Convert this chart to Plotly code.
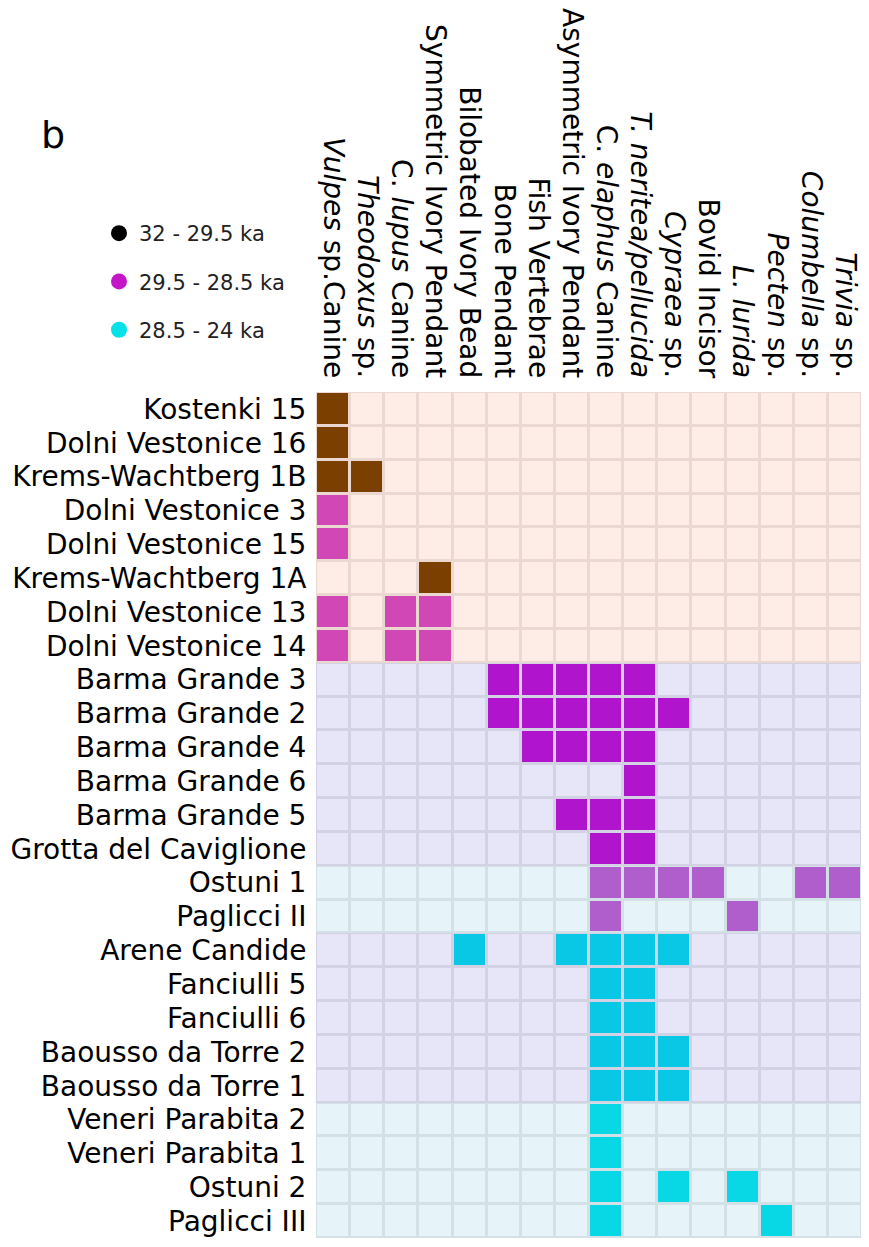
import plotly.graph_objects as go

# ornament types (columns)
items = ["Vulpes Canine", "Theodoxus", "C. lupus Canine", "Symmetric Ivory Pendant",
         "Bilobated Ivory Bead", "Bone Pendant", "Fish Vertebrae", "Asymmetric Ivory Pendant",
         "C. elaphus Canine", "T. neritea/pellucida", "Cypraea", "Bovid Incisor",
         "L. lurida", "Pecten", "Columbella", "Trivia"]
item_labels = ["<i>Vulpes</i> sp.Canine", "<i>Theodoxus</i> sp.", "C. <i>lupus</i> Canine",
               "Symmetric Ivory Pendant", "Bilobated Ivory Bead", "Bone Pendant",
               "Fish Vertebrae", "Asymmetric Ivory Pendant", "C. <i>elaphus</i> Canine",
               "<i>T. neritea/pellucida</i>", "<i>Cypraea</i> sp.", "Bovid Incisor",
               "<i>L. lurida</i>", "<i>Pecten</i> sp.", "<i>Columbella</i> sp.", "<i>Trivia</i> sp."]

# sites (rows), top to bottom
sites = ["Kostenki 15", "Dolni Vestonice 16", "Krems-Wachtberg 1B", "Dolni Vestonice 3",
         "Dolni Vestonice 15", "Krems-Wachtberg 1A", "Dolni Vestonice 13", "Dolni Vestonice 14",
         "Barma Grande 3", "Barma Grande 2", "Barma Grande 4", "Barma Grande 6",
         "Barma Grande 5", "Grotta del Caviglione", "Ostuni 1", "Paglicci II",
         "Arene Candide", "Fanciulli 5", "Fanciulli 6", "Baousso da Torre 2",
         "Baousso da Torre 1", "Veneri Parabita 2", "Veneri Parabita 1", "Ostuni 2", "Paglicci III"]

# row background group: 0 = eastern, 1 = Liguria, 2 = southern Italy
site_group = [0, 0, 0, 0, 0, 0, 0, 0,
              1, 1, 1, 1, 1, 1,
              2, 2,
              1, 1, 1, 1, 1,
              2, 2, 2, 2]

# fill class for present items: 3 brown, 4 pink, 5 purple, 6 light purple, 7 cyan, 8 bright cyan
site_fill = [3, 3, 3, 4, 4, 3, 4, 4,
             5, 5, 5, 5, 5, 5,
             6, 6,
             7, 7, 7, 7, 7,
             8, 8, 8, 8]

# items present at each site (column indices)
present = [[0], [0], [0, 1], [0], [0], [3], [0, 2, 3], [0, 2, 3],
           [5, 6, 7, 8, 9], [5, 6, 7, 8, 9, 10], [6, 7, 8, 9], [9], [7, 8, 9], [8, 9],
           [8, 9, 10, 11, 14, 15], [8, 12],
           [4, 7, 8, 9, 10], [8, 9], [8, 9], [8, 9, 10], [8, 9, 10],
           [8], [8], [8, 10, 12], [8, 13]]

legend_names = ["32 - 29.5 ka", "29.5 - 28.5 ka", "28.5 - 24 ka"]
legend_colors = ["#000000", "#C416C8", "#06E0E8"]

cell_colors = ["#FDEDE6", "#E6E6F8", "#E6F3F9",
               "#7B4000", "#D147B5", "#B014CC", "#B05ECC", "#08C8E6", "#08D8E5"]
grid_colors = ["#EBD9D1", "#D2D2E4", "#D3E1E7"]


def discrete_scale(colors):
    n = len(colors)
    scale = []
    for i, c in enumerate(colors):
        scale.append([i / n, c])
        scale.append([(i + 1) / n, c])
    return scale


z_grid = [[g] * len(items) for g in site_group]
z_cells = []
for g, f, cols in zip(site_group, site_fill, present):
    z_cells.append([f if j in cols else g for j in range(len(items))])

# the page body adds an 8px offset, so the figure is 8px smaller
W, H = 861, 1239
ml, mr, mt, mb = 0, 7, 0, 9
pw, ph = W - ml - mr, H - mt - mb
grid_left, grid_top = 308, 384

fig = go.Figure()
fig.add_trace(go.Heatmap(z=z_grid, x=items, y=sites, colorscale=discrete_scale(grid_colors),
                         zmin=-0.5, zmax=2.5, showscale=False, hoverinfo="skip"))
fig.add_trace(go.Heatmap(z=z_cells, x=items, y=sites, colorscale=discrete_scale(cell_colors),
                         zmin=-0.5, zmax=8.5, showscale=False, xgap=3, ygap=3, hoverinfo="skip"))

for i, (name, col) in enumerate(zip(legend_names, legend_colors)):
    fig.add_trace(go.Scatter(x=[None], y=[None], mode="markers", name=name,
                             legendgroup=str(i),
                             marker=dict(color=col, size=16, symbol="circle")))

fig.update_layout(
    width=W, height=H,
    margin=dict(l=ml, r=mr, t=mt, b=mb),
    paper_bgcolor="white", plot_bgcolor="white",
    font=dict(family="DejaVu Sans", color="#000000", size=28),
    showlegend=True,
    legend=dict(x=91 / pw, y=1 - 205 / ph, xanchor="left", yanchor="top",
                font=dict(size=21, color="#222222"), tracegroupgap=18,
                itemsizing="trace", bgcolor="rgba(0,0,0,0)"),
    xaxis=dict(domain=[(grid_left - ml) / pw, 1], side="top", tickangle=90,
               tickmode="array", tickvals=items, ticktext=item_labels,
               showgrid=False, zeroline=False, showline=False, automargin=False,
               ticks="outside", ticklen=3, tickcolor="rgba(0,0,0,0)",
               tickfont=dict(size=28)),
    yaxis=dict(domain=[0, 1 - (grid_top - mt) / ph], autorange="reversed",
               tickmode="array", tickvals=sites, ticktext=sites,
               showgrid=False, zeroline=False, showline=False, automargin=False,
               ticks="outside", ticklen=3, tickcolor="rgba(0,0,0,0)",
               tickfont=dict(size=28)),
    annotations=[dict(text="b", x=45 / pw, y=1 - 127 / ph, xref="paper", yref="paper",
                      xanchor="center", yanchor="middle",
                      showarrow=False, font=dict(size=38, color="#000000"))],
)

fig.write_html("out.html")
